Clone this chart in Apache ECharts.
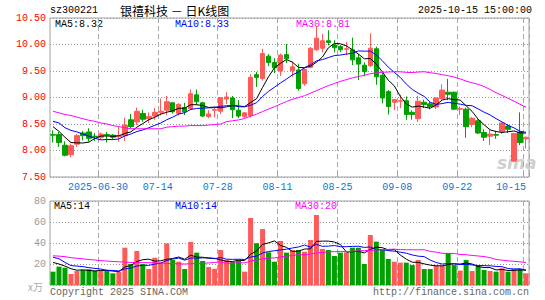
<!DOCTYPE html>
<html>
<head>
<meta charset="utf-8">
<script src="https://cdn.jsdelivr.net/npm/echarts@6/dist/echarts.min.js"></script>
<style>
	html, body { margin: 0; padding: 0; background: #fff; }
	#kline { width: 545px; height: 300px; }
</style>
</head>
<body>
<div id="kline"></div>
<script>
	const upColor = '#ff5a5a'
	const downColor = '#00a000'
	const mono = '"Liberation Mono", "DejaVu Sans Mono", monospace'

	const dates = [
		'2025-06-18', '2025-06-19', '2025-06-20', '2025-06-23', '2025-06-24', '2025-06-25', '2025-06-26', '2025-06-27', '2025-06-30',
		'2025-07-01', '2025-07-02', '2025-07-03', '2025-07-04', '2025-07-07', '2025-07-08', '2025-07-09', '2025-07-10', '2025-07-11',
		'2025-07-14', '2025-07-15', '2025-07-16', '2025-07-17', '2025-07-18', '2025-07-21', '2025-07-22', '2025-07-23', '2025-07-24',
		'2025-07-25', '2025-07-28', '2025-07-29', '2025-07-30', '2025-07-31', '2025-08-01', '2025-08-04', '2025-08-05', '2025-08-06',
		'2025-08-07', '2025-08-08', '2025-08-11', '2025-08-12', '2025-08-13', '2025-08-14', '2025-08-15', '2025-08-18', '2025-08-19',
		'2025-08-20', '2025-08-21', '2025-08-22', '2025-08-25', '2025-08-26', '2025-08-27', '2025-08-28', '2025-08-29', '2025-09-01',
		'2025-09-02', '2025-09-03', '2025-09-04', '2025-09-05', '2025-09-08', '2025-09-09', '2025-09-10', '2025-09-11', '2025-09-12',
		'2025-09-15', '2025-09-16', '2025-09-17', '2025-09-18', '2025-09-19', '2025-09-22', '2025-09-23', '2025-09-24', '2025-09-25',
		'2025-09-26', '2025-09-29', '2025-09-30', '2025-10-09', '2025-10-10', '2025-10-13', '2025-10-14', '2025-10-15'
	]
	// 下方日期标签所在的位置
	const labelAt = [8, 18, 28, 38, 48, 58, 68, 79]

	// [open, close, lowest, highest]
	const ohlc = [
		[8.30, 8.29, 8.15, 8.38], [8.30, 8.15, 8.07, 8.35], [8.10, 7.91, 7.89, 8.17], [7.92, 8.09, 7.87, 8.13],
		[8.12, 8.28, 8.07, 8.31], [8.33, 8.28, 8.19, 8.37], [8.35, 8.23, 8.17, 8.42], [8.27, 8.26, 8.18, 8.33],
		[8.25, 8.31, 8.20, 8.34], [8.30, 8.29, 8.15, 8.35], [8.29, 8.25, 8.20, 8.31], [8.26, 8.28, 8.17, 8.45],
		[8.28, 8.48, 8.18, 8.62], [8.58, 8.45, 8.42, 8.69], [8.54, 8.74, 8.48, 8.81], [8.70, 8.59, 8.54, 8.77],
		[8.60, 8.64, 8.52, 8.72], [8.65, 8.72, 8.58, 8.80], [8.72, 8.74, 8.66, 8.98], [8.76, 8.92, 8.67, 9.03],
		[8.90, 8.73, 8.70, 8.91], [8.70, 8.87, 8.66, 8.89], [8.81, 8.73, 8.67, 8.90], [8.79, 9.07, 8.76, 9.15],
		[9.05, 8.92, 8.86, 9.15], [8.90, 8.65, 8.63, 8.92], [8.64, 8.69, 8.61, 8.76], [8.76, 8.77, 8.63, 8.82],
		[8.74, 9.00, 8.69, 9.01], [8.97, 9.01, 8.88, 9.10], [8.99, 8.77, 8.61, 9.03], [8.76, 8.65, 8.61, 8.95],
		[8.64, 8.71, 8.61, 8.73], [8.66, 9.38, 8.62, 9.44], [9.43, 9.38, 9.20, 9.48], [9.36, 9.83, 9.32, 9.92],
		[9.78, 9.66, 9.59, 9.82], [9.66, 9.56, 9.46, 9.74], [9.50, 9.80, 9.41, 9.83], [9.81, 9.73, 9.65, 10.01],
		[9.51, 9.58, 9.39, 9.68], [9.52, 9.17, 9.13, 9.64], [9.26, 9.53, 9.22, 9.55], [9.57, 9.93, 9.55, 9.95],
		[9.90, 10.12, 9.88, 10.35], [9.93, 10.07, 9.85, 10.20], [10.07, 10.04, 9.98, 10.27], [9.99, 9.94, 9.85, 10.08],
		[9.96, 9.90, 9.86, 9.99], [9.91, 9.92, 9.80, 10.05], [9.90, 9.71, 9.61, 10.13], [9.75, 9.63, 9.33, 9.82],
		[9.61, 9.49, 9.40, 9.66], [9.60, 9.93, 9.58, 10.21], [9.92, 9.39, 9.24, 9.96], [9.42, 8.99, 8.89, 9.46],
		[9.11, 8.83, 8.68, 9.14], [8.91, 8.96, 8.76, 8.97], [8.93, 8.94, 8.80, 9.05], [8.94, 8.68, 8.58, 9.02],
		[8.72, 8.68, 8.58, 8.76], [8.60, 8.93, 8.54, 9.03], [8.91, 8.87, 8.80, 8.96], [8.88, 8.83, 8.78, 8.92],
		[8.82, 8.99, 8.78, 9.00], [8.98, 9.14, 8.95, 9.25], [9.10, 9.06, 8.95, 9.35], [9.10, 8.78, 8.76, 9.11],
		[8.78, 8.79, 8.67, 8.83], [8.78, 8.45, 8.24, 8.81], [8.49, 8.61, 8.44, 8.63], [8.56, 8.33, 8.31, 8.59],
		[8.34, 8.25, 8.18, 8.40], [8.27, 8.31, 8.10, 8.39], [8.30, 8.29, 8.22, 8.37], [8.36, 8.52, 8.31, 8.53],
		[8.46, 8.40, 8.33, 8.50], [7.80, 8.32, 7.78, 8.33], [8.34, 8.15, 8.10, 8.72], [8.22, 8.25, 8.04, 8.26]
	]

	// 成交量（万）
	const volumes = [
		12.7, 17.5, 16.5, 10.5, 13.3, 14.3, 14.9, 13.7, 13.3, 13.3,
		11.1, 12.7, 35.5, 20.0, 32.4, 20.0, 15.2, 26.0, 21.6, 39.7,
		23.8, 22.2, 15.2, 41.0, 30.8, 22.9, 17.1, 15.5, 33.3, 23.8,
		22.2, 23.8, 12.7, 63.8, 39.7, 53.3, 31.1, 22.2, 41.9, 30.8,
		33.3, 33.3, 31.7, 42.9, 66.7, 34.3, 33.3, 27.6, 30.8, 31.1,
		35.5, 35.5, 20.0, 47.6, 41.3, 33.3, 24.8, 22.2, 21.3, 21.3,
		19.0, 23.8, 15.2, 15.2, 18.4, 18.4, 30.2, 19.0, 13.7, 23.8,
		13.3, 18.1, 14.3, 13.3, 12.7, 15.9, 12.7, 15.2, 15.2, 11.1
	]

	// 窗口之前的均线值
	const ma5Head = [8.45, 8.36, 8.25, 8.15]
	const ma10Head = [8.55, 8.52, 8.43, 8.38, 8.35, 8.31, 8.27, 8.23, 8.20]
	const ma30Head = [
		8.74, 8.71, 8.68, 8.66, 8.63, 8.60, 8.57, 8.55, 8.52, 8.50, 8.47, 8.45, 8.43, 8.41, 8.41,
		8.41, 8.41, 8.41, 8.41, 8.44, 8.45, 8.46, 8.46, 8.47, 8.47, 8.47, 8.48, 8.49, 8.50
	]
	const vma5Head = [21.5, 20.0, 18.0, 15.5]
	const vma10Head = [26.5, 25.0, 21.5, 18.5, 18.0, 17.5, 16.5, 15.8, 15.2]
	const vma30Head = [
		27.8, 27.5, 27.0, 26.0, 25.5, 24.9, 24.3, 23.8, 23.2, 22.8, 22.4, 22.1, 21.8, 21.5, 21.3,
		21.3, 21.3, 21.1, 20.8, 20.6, 20.4, 20.2, 20.0, 20.2, 20.5, 20.6, 21.0, 21.5, 22.0
	]

	const closes = ohlc.map((d) => d[1])

	const calcMA = (src, n, head) => {
		return src.map((v, i) => {
			if (i < head.length) return head[i]
			let sum = 0
			for (let j = i - n + 1; j <= i; j++) sum += src[j]
			return +(sum / n).toFixed(3)
		})
	}

	const tickAt = (i) => labelAt.indexOf(i) >= 0
	const isUp = (i) => ohlc[i][1] >= ohlc[i][0]

	const lineSeries = (name, data, color, axis) => ({
		name: name,
		type: 'line',
		data: data,
		xAxisIndex: axis,
		yAxisIndex: axis,
		showSymbol: false,
		symbol: 'none',
		z: 5,
		lineStyle: { color: color, width: 1 },
		silent: true
	})

	const txt = (text, x, y, color, opts) => Object.assign({
		type: 'text',
		x: x,
		y: y,
		silent: true,
		style: {
			text: text,
			fill: color,
			font: '10px ' + mono,
			textAlign: 'left',
			textVerticalAlign: 'middle'
		}
	}, opts || {})

	const chart = echarts.init(document.getElementById('kline'), null, { renderer: 'svg' })

	const option = {
		animation: false,
		backgroundColor: '#fff',
		grid: [
			{ left: 50, top: 18, width: 479, height: 159, show: true, borderColor: '#a0a0a0', borderWidth: 1 },
			{ left: 50, top: 201, width: 479, height: 84, show: true, borderColor: '#a0a0a0', borderWidth: 1 }
		],
		xAxis: [
			{
				type: 'category',
				gridIndex: 0,
				data: dates,
				boundaryGap: true,
				axisLine: { show: false },
				axisTick: { show: true, inside: true, length: 4, interval: tickAt, lineStyle: { color: '#a0a0a0' } },
				axisLabel: {
					interval: tickAt,
					margin: 5,
					alignMaxLabel: 'right',
					color: '#0a78d2',
					fontFamily: mono,
					fontSize: 10,
					formatter: (v, i) => {
						const s = i === labelAt[0] ? v : v.slice(5)
						return i === dates.length - 1 ? '{e|' + s + '}' : '{n|' + s + '}'
					},
					rich: {
						n: { color: '#0a78d2', fontFamily: mono, fontSize: 10, padding: [0, 6, 0, 0] },
						e: { color: '#0a78d2', fontFamily: mono, fontSize: 10 }
					}
				},
				splitLine: { show: true, interval: tickAt, lineStyle: { color: '#a8a8a8', type: [5, 3] } }
			},
			{
				type: 'category',
				gridIndex: 1,
				data: dates,
				boundaryGap: true,
				axisLine: { show: false },
				axisTick: { show: false },
				axisLabel: { show: false },
				splitLine: { show: true, interval: tickAt, lineStyle: { color: '#a8a8a8', type: [5, 3] } }
			}
		],
		yAxis: [
			{
				gridIndex: 0,
				min: 7.5,
				max: 10.5,
				interval: 0.5,
				axisLine: { show: false },
				axisTick: { show: false },
				axisLabel: { color: '#ff0000', fontFamily: mono, fontSize: 10, margin: 4, formatter: (v) => v.toFixed(2) },
				splitLine: { lineStyle: { color: '#999', type: [1, 2] } }
			},
			{
				gridIndex: 1,
				min: 0,
				max: 80,
				interval: 20,
				axisLine: { show: false },
				axisTick: { show: false },
				axisLabel: { color: '#999', fontFamily: mono, fontSize: 10, margin: 4, formatter: (v) => (v === 0 ? '' : v) },
				splitLine: { lineStyle: { color: '#999', type: [1, 2] } }
			}
		],
		series: [
			{
				type: 'candlestick',
				data: ohlc,
				barWidth: 5,
				xAxisIndex: 0,
				yAxisIndex: 0,
				silent: true,
				itemStyle: {
					color: upColor,
					color0: downColor,
					borderColor: upColor,
					borderColor0: downColor,
					borderWidth: 1
				}
			},
			lineSeries('MA5', calcMA(closes, 5, ma5Head), '#000', 0),
			lineSeries('MA10', calcMA(closes, 10, ma10Head), '#0000ff', 0),
			lineSeries('MA30', calcMA(closes, 30, ma30Head), '#ff00ff', 0),
			{
				type: 'bar',
				data: volumes,
				barWidth: 5,
				xAxisIndex: 1,
				yAxisIndex: 1,
				silent: true,
				itemStyle: { color: (p) => (isUp(p.dataIndex) ? upColor : downColor) }
			},
			lineSeries('VMA5', calcMA(volumes, 5, vma5Head), '#000', 1),
			lineSeries('VMA10', calcMA(volumes, 10, vma10Head), '#0000ff', 1),
			lineSeries('VMA30', calcMA(volumes, 30, vma30Head), '#ff00ff', 1)
		],
		graphic: [
			txt('sz300221', 50, 10.5, '#000'),
			txt('银禧科技 － 日K线图', 120, 10.5, '#000', {}),
			txt('2025-10-15 15:00:00', 532, 10.5, '#000'),
			txt('MA5:8.32', 55, 24.5, '#000'),
			txt('MA10:8.33', 175, 24.5, '#0000ff'),
			txt('MA30:8.81', 296, 24.5, '#ff00ff'),
			txt('MA5:14', 54, 206.5, '#000'),
			txt('MA10:14', 175, 206.5, '#0000ff'),
			txt('MA30:20', 295, 206.5, '#ff00ff'),
			txt('x万', 28, 286, '#aaa'),
			txt('Copyright 2025 SINA.COM', 50, 292.5, '#666'),
			txt('http://finance.sina.com.cn', 529, 292.5, '#666'),
			txt('sina', 497, 163, '#cfcfcf')
		]
	}

	// 标题用中文字体，右侧时间右对齐
	option.graphic[1].style.font = '12px "Noto Sans CJK SC", sans-serif'
	option.graphic[2].style.textAlign = 'right'
	option.graphic[11].style.textAlign = 'right'
	option.graphic[12].style.font = 'italic bold 17px "DejaVu Sans", sans-serif'
	option.graphic[9].style.font = '10px "Noto Sans CJK SC", sans-serif'

	chart.setOption(option)
	window.onresize = () => {
		chart.resize()
	}
</script>
</body>
</html>
